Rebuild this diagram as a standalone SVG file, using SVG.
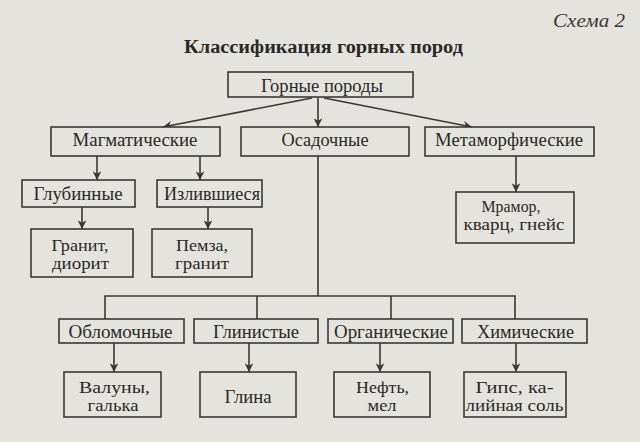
<svg xmlns="http://www.w3.org/2000/svg" width="640" height="442" viewBox="0 0 640 442" font-family="Liberation Serif, Times New Roman, serif">
<defs>
<style>
.bg{fill:#e5e3de}
.box{fill:#e5e3de;stroke:#3a3836;stroke-width:1.6}
.t{font-size:19px;fill:#2b2927;text-anchor:middle}
.t2{font-size:16.5px;fill:#2b2927;text-anchor:middle}
.ln{stroke:#3a3836;stroke-width:1.6;fill:none}
.ar{stroke:#3a3836;stroke-width:1.6;fill:none;marker-end:url(#ah)}
</style>
<marker id="ah" viewBox="0 0 10 10" refX="10" refY="5" markerWidth="5.5" markerHeight="5.5" orient="auto" markerUnits="strokeWidth">
<path d="M0,0 L10,5 L0,10 L3,5 z" fill="#3a3836"/>
</marker>
</defs>
<rect class="bg" x="0" y="0" width="640" height="442"/>
<text x="625" y="27" font-style="italic" font-size="19" fill="#3a3836" text-anchor="end" textLength="72" lengthAdjust="spacingAndGlyphs">Схема 2</text>
<text x="323.5" y="52.5" font-weight="bold" font-size="18" fill="#2b2927" text-anchor="middle" textLength="279" lengthAdjust="spacingAndGlyphs">Классификация горных пород</text>

<g id="connectors">
<line class="ar" x1="312" y1="98" x2="163" y2="127"/>
<line class="ar" x1="318" y1="98" x2="318" y2="127"/>
<line class="ar" x1="324" y1="98" x2="472" y2="127"/>
<line class="ar" x1="97" y1="156" x2="97" y2="180"/>
<line class="ar" x1="200" y1="156" x2="200" y2="180"/>
<line class="ar" x1="82" y1="207" x2="82" y2="229"/>
<line class="ar" x1="208" y1="207" x2="208" y2="229"/>
<line class="ar" x1="516" y1="156" x2="516" y2="192"/>
<polyline class="ln" points="318,156 318,296"/>
<polyline class="ln" points="105,319 105,296 515,296 515,319"/>
<line class="ln" x1="257" y1="296" x2="257" y2="319"/>
<line class="ln" x1="391" y1="296" x2="391" y2="319"/>
<line class="ar" x1="114" y1="343" x2="114" y2="372"/>
<line class="ar" x1="249" y1="343" x2="249" y2="372"/>
<line class="ar" x1="380" y1="343" x2="380" y2="372"/>
<line class="ar" x1="516" y1="343" x2="516" y2="372"/>
</g>

<g id="gornye"><rect class="box" x="228" y="72" width="185" height="25"/><text class="t" x="322" y="91.5" textLength="122" lengthAdjust="spacingAndGlyphs">Горные породы</text></g>

<g id="magmaticheskie"><rect class="box" x="51" y="127" width="169" height="29"/><text class="t" x="135" y="146" textLength="125" lengthAdjust="spacingAndGlyphs">Магматические</text></g>
<g id="osadochnye"><rect class="box" x="241" y="127" width="168" height="29"/><text class="t" x="325" y="146" textLength="87" lengthAdjust="spacingAndGlyphs">Осадочные</text></g>
<g id="metamorficheskie"><rect class="box" x="425" y="127" width="169" height="29"/><text class="t" x="509" y="146" textLength="148" lengthAdjust="spacingAndGlyphs">Метаморфические</text></g>

<g id="glubinnye"><rect class="box" x="22" y="180" width="113" height="27"/><text class="t" x="78" y="199.5" textLength="89" lengthAdjust="spacingAndGlyphs">Глубинные</text></g>
<g id="izlivshiesya"><rect class="box" x="157" y="180" width="105" height="27"/><text class="t" x="212" y="199.5" textLength="96" lengthAdjust="spacingAndGlyphs">Излившиеся</text></g>

<g id="granit"><rect class="box" x="31" y="229" width="102" height="48"/><text class="t2" x="80" y="250.5" textLength="57" lengthAdjust="spacingAndGlyphs">Гранит,</text><text class="t2" x="80.5" y="269" textLength="57" lengthAdjust="spacingAndGlyphs">диорит</text></g>
<g id="pemza"><rect class="box" x="152" y="229" width="100" height="48"/><text class="t2" x="202" y="250.5" textLength="52" lengthAdjust="spacingAndGlyphs">Пемза,</text><text class="t2" x="202" y="269" textLength="54" lengthAdjust="spacingAndGlyphs">гранит</text></g>

<g id="mramor"><rect class="box" x="456" y="192" width="118" height="51"/><text class="t2" x="511" y="211.5" textLength="59" lengthAdjust="spacingAndGlyphs">Мрамор,</text><text class="t2" x="514" y="230" textLength="101" lengthAdjust="spacingAndGlyphs">кварц, гнейс</text></g>

<g id="oblomochnye"><rect class="box" x="59" y="319" width="125" height="24"/><text class="t" x="120.5" y="337.5" textLength="104" lengthAdjust="spacingAndGlyphs">Обломочные</text></g>
<g id="glinistye"><rect class="box" x="194" y="319" width="124" height="24"/><text class="t" x="256" y="337.5" textLength="86" lengthAdjust="spacingAndGlyphs">Глинистые</text></g>
<g id="organicheskie"><rect class="box" x="328" y="319" width="125" height="24"/><text class="t" x="391" y="337.5" textLength="114" lengthAdjust="spacingAndGlyphs">Органические</text></g>
<g id="khimicheskie"><rect class="box" x="462" y="319" width="125" height="24"/><text class="t" x="525.5" y="337.5" textLength="97" lengthAdjust="spacingAndGlyphs">Химические</text></g>

<g id="valuny"><rect class="box" x="64" y="372" width="97" height="45"/><text class="t2" x="114.5" y="392.5" textLength="71" lengthAdjust="spacingAndGlyphs">Валуны,</text><text class="t2" x="113" y="411" textLength="51" lengthAdjust="spacingAndGlyphs">галька</text></g>
<g id="glina"><rect class="box" x="200" y="372" width="96" height="45"/><text class="t" x="248" y="403" textLength="47" lengthAdjust="spacingAndGlyphs">Глина</text></g>
<g id="neft"><rect class="box" x="334" y="372" width="96" height="45"/><text class="t2" x="382.5" y="392.5" textLength="53" lengthAdjust="spacingAndGlyphs">Нефть,</text><text class="t2" x="382" y="411" textLength="29" lengthAdjust="spacingAndGlyphs">мел</text></g>
<g id="gips"><rect class="box" x="464" y="372" width="102" height="45"/><text class="t2" x="514.5" y="392.5" textLength="78" lengthAdjust="spacingAndGlyphs">Гипс, ка-</text><text class="t2" x="514.5" y="411" textLength="98" lengthAdjust="spacingAndGlyphs">лийная соль</text></g>
</svg>
